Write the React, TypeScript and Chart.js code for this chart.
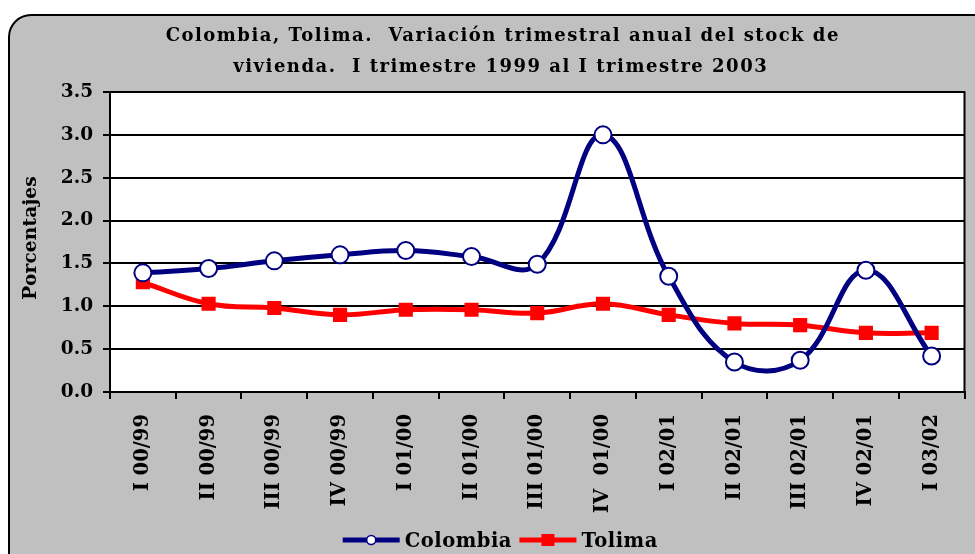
import React, { useEffect, useRef } from "react";
import { Chart, registerables } from "chart.js";

Chart.register(...registerables);

const categories = [
  "I 00/99", "II 00/99", "III 00/99", "IV 00/99", "I 01/00", "II 01/00", "III 01/00",
  "IV  01/00", "I 02/01", "II 02/01", "III 02/01", "IV 02/01", "I 03/02",
];
const colombia = [1.39, 1.44, 1.53, 1.6, 1.65, 1.58, 1.49, 3.0, 1.35, 0.35, 0.37, 1.42, 0.42];
const tolima = [1.28, 1.03, 0.98, 0.9, 0.96, 0.96, 0.92, 1.03, 0.9, 0.8, 0.78, 0.69, 0.69];
const titleLines = [
  "Colombia, Tolima.  Variación trimestral anual del stock de",
  "vivienda.  I trimestre 1999 al I trimestre 2003",
];
const yTitle = "Porcentajes";

const SERIF = "'DejaVu Serif', serif";
const NAVY = "#000080";
const RED = "#ff0000";

function spaced(ctx: any, text: string, x: number, y: number, spacing: number) {
  ctx.letterSpacing = `${spacing}px`;
  const w = ctx.measureText(text).width - spacing;
  const align = ctx.textAlign;
  let sx = x;
  if (align === "center") sx = x - w / 2;
  else if (align === "right") sx = x - w;
  ctx.textAlign = "left";
  ctx.fillText(text, sx, y);
  ctx.textAlign = align;
  ctx.letterSpacing = "0px";
  return w;
}

const framePlugin = {
  id: "frame",
  beforeDraw(chart: any) {
    const { ctx, chartArea } = chart;
    ctx.save();
    ctx.fillStyle = "#ffffff";
    ctx.fillRect(0, 0, chart.width, chart.height);
    const x = 9, y = 15, w = 1000, h = 600, r = 22;
    ctx.beginPath();
    ctx.moveTo(x + r, y);
    ctx.lineTo(x + w - r, y);
    ctx.arcTo(x + w, y, x + w, y + r, r);
    ctx.lineTo(x + w, y + h - r);
    ctx.arcTo(x + w, y + h, x + w - r, y + h, r);
    ctx.lineTo(x + r, y + h);
    ctx.arcTo(x, y + h, x, y + h - r, r);
    ctx.lineTo(x, y + r);
    ctx.arcTo(x, y, x + r, y, r);
    ctx.closePath();
    ctx.fillStyle = "#c0c0c0";
    ctx.fill();
    ctx.lineWidth = 2;
    ctx.strokeStyle = "#000000";
    ctx.stroke();
    ctx.fillStyle = "#ffffff";
    ctx.fillRect(chartArea.left, chartArea.top, chartArea.right - chartArea.left, chartArea.bottom - chartArea.top);
    // title
    ctx.fillStyle = "#000000";
    ctx.font = `bold 18px ${SERIF}`;
    ctx.textAlign = "center";
    ctx.textBaseline = "alphabetic";
    spaced(ctx, titleLines[0], 502, 41, 1.5);
    spaced(ctx, titleLines[1], 500, 72, 1.5);
    // y-axis title
    ctx.save();
    ctx.translate(36, 238);
    ctx.rotate(-Math.PI / 2);
    ctx.font = `bold 18.5px ${SERIF}`;
    ctx.textAlign = "center";
    ctx.textBaseline = "alphabetic";
    spaced(ctx, yTitle, 0, 0, 0.2);
    ctx.restore();
    ctx.restore();
  },
  beforeDatasetsDraw(chart: any) {
    const { ctx, chartArea } = chart;
    ctx.save();
    ctx.strokeStyle = "#000000";
    ctx.lineWidth = 2;
    ctx.strokeRect(chartArea.left, chartArea.top, chartArea.right - chartArea.left, chartArea.bottom - chartArea.top);
    ctx.restore();
  },
  afterDraw(chart: any) {
    const { ctx } = chart;
    const ds = chart.data.datasets;
    ctx.save();
    ctx.font = `bold 19.5px ${SERIF}`;
    ctx.textBaseline = "alphabetic";
    ctx.textAlign = "left";
    const lineLen = 57;
    const gap = 5;
    const between = 8;
    const spacing = 0.5;
    ctx.letterSpacing = `${spacing}px`;
    const widths = ds.map((d: any) => lineLen + gap + ctx.measureText(d.label).width - spacing);
    ctx.letterSpacing = "0px";
    const total = widths.reduce((a: number, b: number) => a + b, 0) + between * (ds.length - 1);
    let x = 500 - total / 2;
    const y = 540;
    ds.forEach((d: any, i: number) => {
      ctx.strokeStyle = d.borderColor;
      ctx.lineWidth = 5;
      ctx.beginPath();
      ctx.moveTo(x, y);
      ctx.lineTo(x + lineLen, y);
      ctx.stroke();
      const cx = x + lineLen / 2;
      if (d.pointStyle === "circle") {
        ctx.beginPath();
        ctx.arc(cx, y, 4.5, 0, Math.PI * 2);
        ctx.fillStyle = "#ffffff";
        ctx.fill();
        ctx.lineWidth = 1.5;
        ctx.strokeStyle = d.borderColor;
        ctx.stroke();
      } else {
        ctx.fillStyle = d.borderColor;
        ctx.fillRect(cx - 6.5, y - 6, 13, 12);
      }
      ctx.fillStyle = "#000000";
      spaced(ctx, d.label, x + lineLen + gap, y + 7, spacing);
      x += widths[i] + between;
    });
    ctx.restore();
  },
};

export default function App() {
  const ref = useRef<HTMLCanvasElement>(null);
  useEffect(() => {
    const chart = new Chart(ref.current as HTMLCanvasElement, {
      type: "line",
      data: {
        labels: categories,
        datasets: [
          {
            label: "Colombia",
            data: colombia,
            borderColor: NAVY,
            backgroundColor: "#ffffff",
            borderWidth: 5,
            tension: 0.4,
            pointStyle: "circle",
            pointRadius: 8.5,
            pointHoverRadius: 8.5,
            pointBorderWidth: 2,
            pointBackgroundColor: "#ffffff",
            pointBorderColor: NAVY,
          },
          {
            label: "Tolima",
            data: tolima,
            borderColor: RED,
            backgroundColor: RED,
            borderWidth: 5,
            tension: 0.4,
            pointStyle: "rect",
            pointRadius: 10,
            pointHoverRadius: 10,
            pointBorderWidth: 0,
            pointBackgroundColor: RED,
            pointBorderColor: RED,
          },
        ],
      },
      options: {
        animation: false,
        responsive: false,
        layout: { padding: { left: 0, top: 92, right: 7, bottom: 0 } },
        plugins: {
          legend: { display: false },
          title: { display: false },
          tooltip: { enabled: false },
        },
        scales: {
          x: {
            offset: true,
            grid: {
              offset: true,
              drawOnChartArea: false,
              drawTicks: true,
              tickLength: 7,
              color: "#000000",
              lineWidth: 2,
            },
            border: { display: true, color: "#000000", width: 2 },
            ticks: {
              autoSkip: false,
              maxRotation: 90,
              minRotation: 90,
              padding: 15,
              color: "#000000",
              font: { family: SERIF, size: 19.5, weight: "bold" },
            },
            afterFit(scale: any) {
              scale.height = 162;
            },
          },
          y: {
            min: 0,
            max: 3.5,
            ticks: {
              stepSize: 0.5,
              padding: 10,
              color: "#000000",
              font: { family: SERIF, size: 18.5, weight: "bold" },
              callback: (v: any) => Number(v).toFixed(1),
            },
            grid: {
              color: "#000000",
              lineWidth: 2,
              tickLength: 7,
              drawTicks: true,
            },
            border: { display: true, color: "#000000", width: 2 },
            afterFit(scale: any) {
              scale.width = 110;
            },
          },
        },
      },
      plugins: [framePlugin],
    });
    return () => chart.destroy();
  }, []);
  return (
    <div style={{ position: "fixed", left: 0, top: 0, width: 975, height: 554 }}>
      <canvas ref={ref} width={975} height={554} style={{ display: "block" }} />
    </div>
  );
}
